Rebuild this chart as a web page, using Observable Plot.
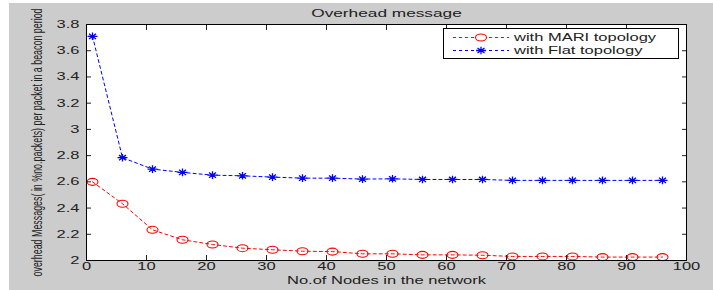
<!DOCTYPE html>
<html><head><meta charset="utf-8">
<script src="https://cdn.jsdelivr.net/npm/d3@7"></script>
<script src="https://cdn.jsdelivr.net/npm/@observablehq/plot@0.6"></script>
<style>
html,body{margin:0;padding:0;background:#fff;}
#wrap{position:relative;width:713px;height:290px;overflow:hidden;background:#fff;}
#chart{position:absolute;left:9px;top:3px;width:704px;height:287px;background:#cccccc;}
#legend{position:absolute;left:443px;top:28px;}
</style>
</head><body>
<div id="wrap"><div id="chart"></div><div id="legend"></div></div>
<script>
const nodes = [1,6,11,16,21,26,31,36,41,46,51,56,61,66,71,76,81,86,91,96];
const mariValues = [2.600,2.433,2.234,2.158,2.122,2.094,2.082,2.071,2.068,2.051,2.051,2.043,2.043,2.040,2.031,2.031,2.031,2.026,2.026,2.026];
const flatValues = [3.710,2.784,2.697,2.672,2.651,2.646,2.636,2.628,2.628,2.621,2.623,2.618,2.618,2.618,2.611,2.611,2.611,2.611,2.611,2.611];
const seriesNames = ["with MARI topology","with Flat topology"];
const seriesColors = ["#ff0000","#0000ff"];
const xTicks = [0,10,20,30,40,50,60,70,80,90,100];
const yTicks = [2,2.2,2.4,2.6,2.8,3,3.2,3.4,3.6,3.8];
const yTickLabels = ["2","2.2","2.4","2.6","2.8","3","3.2","3.4","3.6","3.8"];
const titleText = "Overhead message";
const xLabel = "No.of Nodes in the network";
const yLabel = "overhead Messages( in %no.packets) per packet in a beacon period";

const rows = nodes.flatMap((n,i)=>[
  {x:n,y:mariValues[i],s:seriesNames[0]},
  {x:n,y:flatValues[i],s:seriesNames[1]}
]);

// horizontally stretched marker shapes (the reference figure is stretched)
const ellipseSymbol = {draw(ctx){
  const rx=5.5, ry=3.5, k=0.5523;
  ctx.moveTo(rx,0);
  ctx.bezierCurveTo(rx, ry*k, rx*k, ry, 0, ry);
  ctx.bezierCurveTo(-rx*k, ry, -rx, ry*k, -rx, 0);
  ctx.bezierCurveTo(-rx, -ry*k, -rx*k, -ry, 0, -ry);
  ctx.bezierCurveTo(rx*k, -ry, rx, -ry*k, rx, 0);
  ctx.closePath();
}};
const starSymbol = {draw(ctx){
  ctx.moveTo(-5,0); ctx.lineTo(5,0);
  ctx.moveTo(0,-3.8); ctx.lineTo(0,3.8);
  ctx.moveTo(-3.5,-2.6); ctx.lineTo(3.5,2.6);
  ctx.moveTo(-3.5,2.6); ctx.lineTo(3.5,-2.6);
}};

const plot = Plot.plot({
  width:704, height:287, marginLeft:77, marginRight:27, marginTop:21, marginBottom:30,
  style:{background:"transparent", fontFamily:"'Liberation Sans', Arial, sans-serif", fontSize:"11px", color:"#222", overflow:"visible"},
  x:{domain:[0,100]},
  y:{domain:[2,3.8]},
  color:{domain:seriesNames, range:seriesColors},
  marks:[
    Plot.frame({fill:"white", stroke:null}),
    Plot.line(rows,{x:"x",y:"y",z:"s",stroke:"s",strokeWidth:1,strokeDasharray:"3,3"}),
    Plot.dot(rows.filter(d=>d.s===seriesNames[0]),{x:"x",y:"y",symbol:ellipseSymbol,stroke:"s",strokeWidth:1.1}),
    Plot.dot(rows.filter(d=>d.s===seriesNames[1]),{x:"x",y:"y",symbol:starSymbol,stroke:"s",strokeWidth:1.3}),
    Plot.axisX({ticks:xTicks, tickSize:-5, tickPadding:7, tickFormat:d=>String(d), label:xLabel, labelAnchor:"center", labelArrow:"none", labelOffset:23}),
    Plot.axisX({anchor:"top", ticks:xTicks, tickSize:-5, tickFormat:()=>"", label:null}),
    Plot.axisY({ticks:yTicks, tickSize:-5, tickPadding:12, tickFormat:d=>yTickLabels[yTicks.indexOf(d)], label:yLabel, labelAnchor:"center", labelArrow:"none", labelOffset:54}),
    Plot.axisY({anchor:"right", ticks:yTicks, tickSize:-5, tickFormat:()=>"", label:null}),
    Plot.frame({stroke:"black"}),
    Plot.text([titleText],{frameAnchor:"top", dy:-11, text:d=>d, fill:"#222", lineAnchor:"middle", fontSize:11.5})
  ]
});
document.getElementById("chart").append(plot);

const STRETCH = 1.5;
d3.select(plot).selectAll("text").each(function(){
  const g = this.closest("g[aria-label]");
  const lab = g ? g.getAttribute("aria-label") : "";
  if (lab === "y-axis label") {
    this.style.fontSize = "10.3px";
    this.setAttribute("textLength", 268);
    this.setAttribute("lengthAdjust", "spacingAndGlyphs");
    const tr = this.getAttribute("transform") || "";
    this.setAttribute("transform", tr + " scale(1,1.35)");
  } else {
    const w = this.getComputedTextLength();
    if (w > 0) {
      this.setAttribute("textLength", (w*STRETCH).toFixed(1));
      this.setAttribute("lengthAdjust", "spacingAndGlyphs");
    }
  }
});

// legend
const lg = d3.select("#legend").append("svg").attr("width",236).attr("height",31)
  .style("font-family","'Liberation Sans', Arial, sans-serif").style("font-size","11px");
lg.append("rect").attr("x",0.5).attr("y",0.5).attr("width",235).attr("height",30).attr("fill","white").attr("stroke","black");
seriesNames.forEach((name,i)=>{
  const y = 9.5 + i*13;
  lg.append("line").attr("x1",10).attr("x2",66).attr("y1",y).attr("y2",y)
    .attr("stroke",seriesColors[i]).attr("stroke-dasharray","3,3");
  const sym = i===0 ? ellipseSymbol : starSymbol;
  lg.append("path").attr("d", d3.symbol(sym)()).attr("transform",`translate(38,${y})`)
    .attr("fill", i===0 ? "white" : "none").attr("stroke",seriesColors[i]).attr("stroke-width",i===0?1.1:1.3);
  const t = lg.append("text").attr("x",71).attr("y",y).attr("dy","0.35em").attr("fill","#222").text(name);
  const w = t.node().getComputedTextLength();
  t.attr("textLength",(w*STRETCH).toFixed(1)).attr("lengthAdjust","spacingAndGlyphs");
});
</script>
</body></html>
